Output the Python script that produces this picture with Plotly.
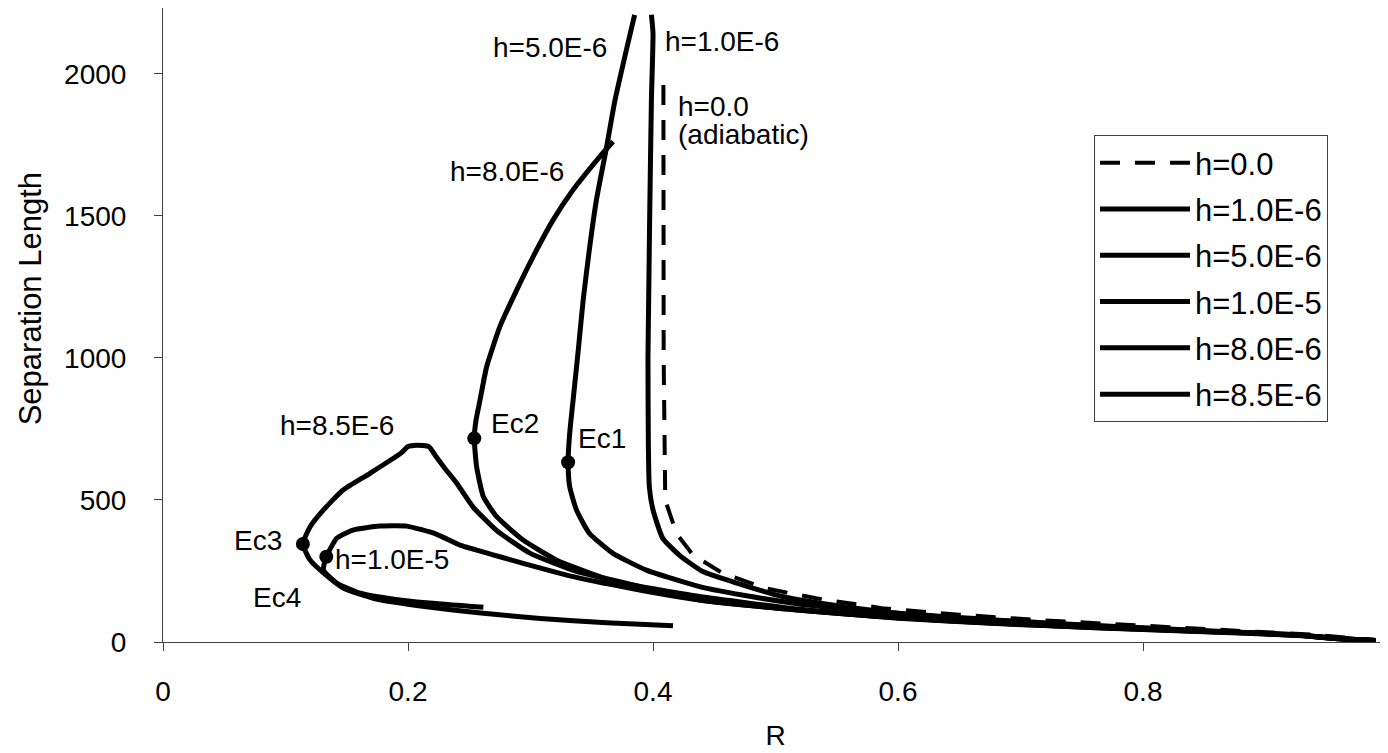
import plotly.graph_objects as go

# ---- data (R, separation length) ----
r_h0 = [0.4085, 0.4087, 0.4087, 0.4100, 0.4136, 0.4190, 0.4326, 0.4570, 0.4920, 0.5330, 0.5870, 0.6500, 0.7200, 0.8000, 0.8800, 0.9400, 0.9700, 0.9900]
l_h0 = [1961, 1500, 1000, 500, 454, 383, 306, 242, 189, 154, 119, 96, 76, 56, 39, 26, 14, 5]

r_h1e6 = [0.3987, 0.4000, 0.3987, 0.3973, 0.3966, 0.3959, 0.3962, 0.3970, 0.4000, 0.4080, 0.4217, 0.4407, 0.4652, 0.5057, 0.5466, 0.6010, 0.6825, 0.7600, 0.8500, 0.9300, 0.9600, 0.9900]
l_h1e6 = [2208, 2144, 1908, 1500, 1250, 1000, 700, 547, 465, 365, 305, 248, 212, 160, 130, 101, 77, 58, 40, 24, 12, 5]

r_h5e6 = [0.3850, 0.3783, 0.3690, 0.3620, 0.3538, 0.3480, 0.3430, 0.3390, 0.3348, 0.3320, 0.3307, 0.3320, 0.3375, 0.3480, 0.3670, 0.3946, 0.4380, 0.4800, 0.5300, 0.6000, 0.6800, 0.7600, 0.8500, 0.9300, 0.9600, 0.9900]
l_h5e6 = [2208, 2085, 1908, 1740, 1556, 1380, 1204, 1028, 852, 735, 633, 547, 465, 383, 313, 253, 195, 160, 128, 100, 76, 57, 39, 23, 12, 5]

r_h8e6 = [0.3674, 0.3566, 0.3348, 0.3185, 0.3022, 0.2887, 0.2750, 0.2642, 0.2588, 0.2555, 0.2541, 0.2560, 0.2615, 0.2724, 0.2940, 0.3210, 0.3566, 0.3890, 0.4380, 0.5200, 0.6000, 0.6800, 0.7600, 0.8500, 0.9300, 0.9600, 0.9900]
l_h8e6 = [1762, 1709, 1592, 1486, 1357, 1239, 1110, 969, 852, 780, 717, 617, 512, 441, 359, 289, 230, 195, 148, 112, 85, 66, 50, 36, 22, 11, 4]

r_h85e6 = [0.9900, 0.9540, 0.9270, 0.8500, 0.7600, 0.6800, 0.6000, 0.5200, 0.4380, 0.3755, 0.3346, 0.2995, 0.2720, 0.2530, 0.2398, 0.2300, 0.2230, 0.2170, 0.2071, 0.2000, 0.1940, 0.1690, 0.1470, 0.1310, 0.1200, 0.1142, 0.1200, 0.1310, 0.1470, 0.1750, 0.2150, 0.2615, 0.3080, 0.3620, 0.4163]
l_h85e6 = [5, 13, 25, 38, 52, 67, 86, 115, 160, 207, 253, 313, 394, 476, 559, 612, 652, 688, 693, 688, 664, 594, 535, 465, 405, 345, 289, 243, 190, 150, 124, 101, 83, 68, 57]

r_h1e5 = [0.9900, 0.9540, 0.9270, 0.8500, 0.7600, 0.6800, 0.6000, 0.5200, 0.4380, 0.3890, 0.3350, 0.2940, 0.2750, 0.2640, 0.2424, 0.2230, 0.1990, 0.1770, 0.1550, 0.1420, 0.1333, 0.1310, 0.1420, 0.1610, 0.1900, 0.2150, 0.2615]
l_h1e5 = [5, 13, 24, 37, 51, 65, 84, 112, 148, 183, 230, 277, 300, 314, 341, 380, 408, 408, 394, 366, 300, 254, 207, 172, 150, 138, 122]

# critical points
ec_r = [0.3307, 0.2541, 0.1142, 0.1333]
ec_l = [633, 717, 345, 300]

series = [
    ("h=0.0", r_h0, l_h0, dict(color="black", width=4, dash="20px,15px")),
    ("h=1.0E-6", r_h1e6, l_h1e6, dict(color="black", width=5, shape="spline", smoothing=0.5)),
    ("h=5.0E-6", r_h5e6, l_h5e6, dict(color="black", width=5, shape="spline", smoothing=0.5)),
    ("h=1.0E-5", r_h1e5, l_h1e5, dict(color="black", width=5, shape="spline", smoothing=0.5)),
    ("h=8.0E-6", r_h8e6, l_h8e6, dict(color="black", width=5, shape="spline", smoothing=0.5)),
    ("h=8.5E-6", r_h85e6, l_h85e6, dict(color="black", width=5, shape="spline", smoothing=0.5)),
]

FONT = "Liberation Sans, Arial, sans-serif"

fig = go.Figure()
for i, (name, xs, ys, ln) in enumerate(series):
    fig.add_trace(go.Scatter(x=xs, y=ys, mode="lines", name=name, line=ln,
                             legendgroup=f"g{i}"))

fig.add_trace(go.Scatter(x=ec_r, y=ec_l, mode="markers", showlegend=False,
                         marker=dict(color="black", size=14)))

# curve labels
labels = [
    ("h=5.0E-6", 0.3158, 2092, "center"),
    ("h=1.0E-6", 0.4085, 2114, "left"),
    ("h=0.0", 0.4186, 1885, "left"),
    ("(adiabatic)", 0.4186, 1785, "left"),
    ("h=8.0E-6", 0.2808, 1656, "center"),
    ("h=8.5E-6", 0.1423, 762, "center"),
    ("Ec2", 0.2873, 768, "center"),
    ("Ec1", 0.3580, 715, "center"),
    ("Ec3", 0.0779, 357, "center"),
    ("h=1.0E-5", 0.1873, 290, "center"),
    ("Ec4", 0.0931, 155, "center"),
]
for txt, x, y, anc in labels:
    fig.add_annotation(x=x, y=y, text=txt, showarrow=False, xanchor=anc,
                       yanchor="middle", font=dict(size=28, color="black", family=FONT))

# y-axis title (page body has an 8px offset; plot area starts at x=163 on screen)
fig.add_annotation(xref="paper", yref="paper", x=-0.1086, y=0.542,
                   xanchor="center", yanchor="middle",
                   text="Separation Length", textangle=-90, showarrow=False,
                   font=dict(size=31, color="black", family=FONT))

fig.update_layout(
    width=1380, height=745,
    margin=dict(l=155, r=0, t=0, b=111),
    paper_bgcolor="white", plot_bgcolor="white",
    font=dict(family=FONT, size=28, color="black"),
    showlegend=True,
    legend=dict(x=0.76, y=0.7997, xanchor="left", yanchor="top",
                bordercolor="#404040", borderwidth=1, bgcolor="white",
                font=dict(size=31, color="black", family=FONT),
                tracegroupgap=3, itemwidth=90),
    xaxis=dict(range=[0, 1], tickvals=[0, 0.2, 0.4, 0.6, 0.8, 1],
               ticktext=["0", "0.2", "0.4", "0.6", "0.8", "1"],
               showgrid=False, zeroline=False, showline=True, linecolor="#404040",
               linewidth=1, mirror=True, ticks="outside", ticklen=8, tickcolor="#404040",
               ticklabelstandoff=16, automargin=False, ticklabeloverflow="allow",
               title=dict(text="R", font=dict(size=28, family=FONT), standoff=19)),
    yaxis=dict(range=[0, 2232], tickvals=[0, 500, 1000, 1500, 2000],
               showgrid=False, zeroline=False, showline=True, linecolor="#404040",
               linewidth=1, ticks="outside", ticklen=8, tickcolor="#404040",
               ticklabelstandoff=22, automargin=False),
)

fig.write_html("out.html")
